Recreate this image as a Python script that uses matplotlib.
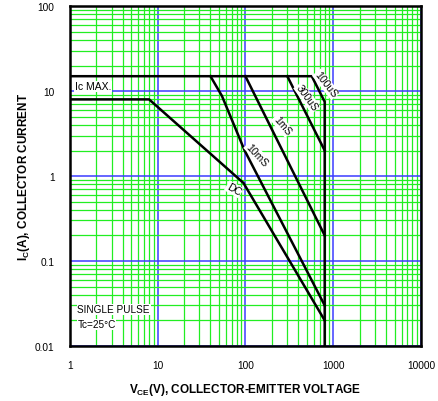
import matplotlib
matplotlib.use('Agg')
import matplotlib.pyplot as plt

plt.rcParams['font.family'] = ['Liberation Sans', 'DejaVu Sans']
plt.rcParams['mathtext.fontset'] = 'custom'
plt.rcParams['mathtext.rm'] = 'Liberation Sans'
plt.rcParams['mathtext.bf'] = 'Liberation Sans:bold'

# safe operating area
ic_max = 15
vce_max = 800
i_floor = 0.01

dc_v = [1, 8, 95, 800]
dc_i = [8, 8, 0.83, 0.02]
ms10_v = [40, 54, 98, 800]
ms10_i = [15, 8.8, 2.0, 0.03]
ms1_v = [100, 800]
ms1_i = [15, 0.2]
us300_v = [300, 800]
us300_i = [15, 2.0]
us100_v = [570, 800]
us100_i = [15, 7.5]

x_ticks = [1, 10, 100, 1000, 10000]
x_labels = ['1', '10', '100', '1000', '10000']
y_ticks = [0.01, 0.1, 1, 10, 100]
y_labels = ['0.01', '0.1', '1', '10', '100']

fig = plt.figure(figsize=(4.39, 4.02), dpi=100)
ax = fig.add_axes([0.159, 0.137, 0.8, 0.845])
ax.set_xscale('log')
ax.set_yscale('log')
ax.set_xlim(1, 10000)
ax.set_ylim(0.01, 100)

ax.grid(True, which='minor', color='#22ee22', linewidth=0.9)
ax.grid(True, which='major', color='#3c3cff', linewidth=1.1)
ax.set_xticks(x_ticks)
ax.set_xticklabels(x_labels)
ax.set_yticks(y_ticks)
ax.set_yticklabels(y_labels)
ax.tick_params(which='both', length=0, labelsize=7.3)
ax.tick_params(axis='x', pad=10)
ax.tick_params(axis='y', pad=11)
for s in ax.spines.values():
    s.set_linewidth(1.8)

lw = 1.8
# outer envelope: Ic max, the 100uS line, then the Vce max drop
env_v = [1] + us100_v + [vce_max]
env_i = [ic_max] + us100_i + [i_floor]
for v, i in [(env_v, env_i), (dc_v, dc_i), (ms10_v, ms10_i),
             (ms1_v, ms1_i), (us300_v, us300_i)]:
    ax.plot(v, i, color='black', linewidth=lw, solid_joinstyle='miter', zorder=3)

box = dict(facecolor='white', edgecolor='none', pad=0.5)
fs = 7.5
ax.text(1.15, 11.4, 'Ic MAX.', fontsize=fs, va='center', ha='left', bbox=box, zorder=4)
ax.text(1.22, 0.027, 'SINGLE PULSE', fontsize=7.2, va='center', ha='left', bbox=box, zorder=4)
ax.text(1.22, 0.018, 'Tc=25°C', fontsize=7.2, va='center', ha='left', bbox=box, zorder=4)

ax.text(829, 12.0, '100uS', fontsize=fs, rotation=-52, ha='center', va='center', bbox=box, zorder=4)
ax.text(503, 8.4, '300uS', fontsize=fs, rotation=-54, ha='center', va='center', bbox=box, zorder=4)
ax.text(262, 3.95, '1mS', fontsize=fs, rotation=-50, ha='center', va='center', bbox=box, zorder=4)
ax.text(136, 1.8, '10mS', fontsize=fs, rotation=-47, ha='center', va='center', bbox=box, zorder=4)
ax.text(74, 0.70, 'DC', fontsize=fs, rotation=-30, ha='center', va='center', bbox=box, zorder=4)

ax.set_xlabel(r'V$_\mathbf{CE}$(V), COLLECTOR-EMITTER VOLTAGE', fontsize=8.5,
              fontweight='bold', labelpad=8)
ax.set_ylabel(r'I$_\mathbf{C}$(A), COLLECTOR CURRENT', fontsize=8.5,
              fontweight='bold', labelpad=2)

fig.savefig('out.png', dpi=100)
